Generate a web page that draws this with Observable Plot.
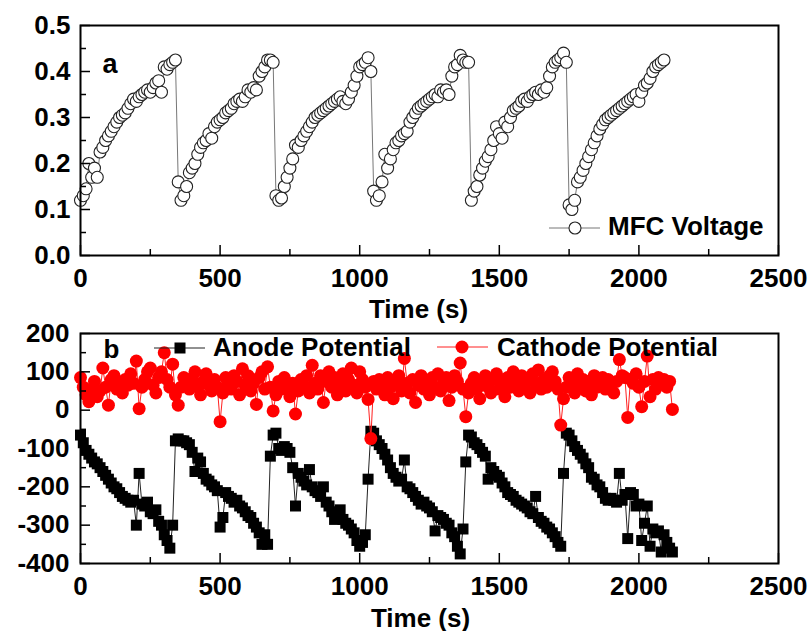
<!DOCTYPE html>
<html>
<head>
<meta charset="utf-8">
<script src="https://cdn.jsdelivr.net/npm/d3@7"></script>
<script src="https://cdn.jsdelivr.net/npm/@observablehq/plot@0.6"></script>
<style>
  html, body { margin: 0; padding: 0; background: white; }
  #chart svg { display: block; overflow: visible; }
</style>
</head>
<body>
<div id="chart"></div>
<script>
// Sampling times (s)
const time = [
  0,10,20,30,40,50,60,70,80,90,100,110,120,130,140,150,160,170,180,190,
  200,210,220,230,240,250,260,270,280,290,300,310,320,330,340,350,360,370,380,390,
  400,410,420,430,440,450,460,470,480,490,500,510,520,530,540,550,560,570,580,590,
  600,610,620,630,640,650,660,670,680,690,700,710,720,730,740,750,760,770,780,790,
  800,810,820,830,840,850,860,870,880,890,900,910,920,930,940,950,960,970,980,990,
  1000,1010,1020,1030,1040,1050,1060,1070,1080,1090,1100,1110,1120,1130,1140,1150,1160,1170,1180,1190,
  1200,1210,1220,1230,1240,1250,1260,1270,1280,1290,1300,1310,1320,1330,1340,1350,1360,1370,1380,1390,
  1400,1410,1420,1430,1440,1450,1460,1470,1480,1490,1500,1510,1520,1530,1540,1550,1560,1570,1580,1590,
  1600,1610,1620,1630,1640,1650,1660,1670,1680,1690,1700,1710,1720,1730,1740,1750,1760,1770,1780,1790,
  1800,1810,1820,1830,1840,1850,1860,1870,1880,1890,1900,1910,1920,1930,1940,1950,1960,1970,1980,1990,
  2000,2010,2020,2030,2040,2050,2060,2070,2080,2090,2100,2110,2120
];

// MFC voltage (V), t = 0 ... 2090 s
const mfcVoltage = [
  0.12,0.13,0.145,0.20,0.17,0.19,0.17,0.225,0.235,0.25,0.26,0.27,0.28,0.29,0.30,0.305,0.31,0.32,0.33,0.34,0.335,0.345,0.35,0.355,0.36,0.355,0.365,0.375,0.38,0.355,0.41,0.405,0.415,0.42,0.425,
  0.16,0.12,0.13,0.15,0.18,0.19,0.20,0.22,0.235,0.245,0.25,0.265,0.255,0.28,0.29,0.295,0.30,0.31,0.315,0.32,0.33,0.335,0.34,0.335,0.345,0.36,0.355,0.365,0.36,0.39,0.40,0.41,0.425,0.425,0.42,
  0.13,0.12,0.125,0.15,0.17,0.19,0.21,0.24,0.235,0.25,0.26,0.27,0.28,0.29,0.30,0.305,0.31,0.315,0.32,0.325,0.33,0.335,0.34,0.345,0.335,0.33,0.34,0.355,0.37,0.39,0.41,0.415,0.42,0.43,0.40,
  0.14,0.12,0.13,0.16,0.22,0.19,0.21,0.23,0.245,0.25,0.26,0.265,0.27,0.29,0.30,0.31,0.32,0.325,0.33,0.335,0.34,0.345,0.35,0.345,0.36,0.355,0.36,0.35,0.39,0.41,0.415,0.435,0.425,0.42,0.42,
  0.12,0.14,0.15,0.175,0.19,0.205,0.215,0.23,0.25,0.28,0.265,0.255,0.29,0.28,0.30,0.315,0.32,0.325,0.335,0.34,0.335,0.345,0.35,0.355,0.35,0.36,0.355,0.365,0.39,0.41,0.42,0.425,0.43,0.44,0.42,
  0.11,0.10,0.12,0.16,0.17,0.185,0.20,0.215,0.23,0.245,0.26,0.275,0.285,0.295,0.30,0.305,0.31,0.315,0.32,0.325,0.33,0.335,0.34,0.345,0.35,0.335,0.355,0.37,0.375,0.385,0.40,0.41,0.415,0.42,0.425
];

// Anode potential (mV), t = 0 ... 2120 s
const anodePotential = [
  -65,-85,-105,-115,-125,-135,-140,-150,-160,-170,-180,-190,-200,-205,-215,-225,-230,-235,-240,-235,-300,-165,-245,-250,-240,-265,-270,-260,-290,-300,-325,-340,-360,-300,
  -80,-75,-80,-80,-85,-90,-110,-160,-125,-135,-165,-180,-185,-195,-200,-210,-305,-280,-215,-225,-230,-240,-235,-250,-255,-265,-275,-280,-295,-305,-320,-350,-325,-350,
  -120,-65,-60,-100,-105,-95,-100,-110,-150,-250,-165,-175,-185,-195,-155,-200,-210,-215,-225,-200,-240,-250,-265,-285,-275,-260,-285,-295,-300,-310,-320,-340,-355,-345,-325,
  -180,-55,-60,-80,-90,-100,-115,-130,-150,-165,-175,-185,-180,-130,-200,-205,-215,-225,-235,-245,-240,-250,-255,-265,-315,-275,-280,-285,-295,-300,-320,-330,-355,-375,-310,
  -135,-65,-70,-85,-90,-100,-110,-120,-180,-150,-160,-170,-175,-190,-200,-215,-220,-225,-235,-240,-245,-250,-255,-265,-270,-225,-280,-290,-295,-305,-310,-320,-330,-345,-355,
  -165,-60,-65,-80,-95,-105,-115,-125,-140,-150,-175,-180,-195,-200,-215,-230,-235,-230,-235,-240,-165,-235,-220,-335,-215,-220,-250,-245,-340,-295,-250,-355,-310,-320,-315,-370,-325,-345,-360,-370
];

// Cathode potential (mV), t = 0 ... 2120 s
const cathodePotential = [
  85,60,40,22,55,75,35,50,110,60,
  13,80,90,55,70,45,80,65,95,70,
  128,4,60,80,100,110,65,45,85,100,
  150,80,60,120,40,13,60,85,70,55,
  83,100,60,40,75,95,65,50,80,60,
  -30,45,85,70,55,90,75,40,108,65,
  90,50,70,15,85,100,55,113,60,-2,
  40,75,55,85,60,35,70,-10,50,80,
  65,90,45,117,70,55,90,20,75,100,
  60,85,40,70,95,50,80,110,65,45,
  100,80,60,28,-74,75,55,80,65,40,
  85,60,30,75,90,50,135,70,45,80,
  20,65,90,55,75,40,85,60,95,50,
  70,85,25,60,90,75,123,55,-17,45,
  70,85,55,30,75,90,60,45,80,95,
  55,70,35,85,60,100,75,50,90,65,
  80,45,95,70,105,55,80,60,90,100,
  75,55,-39,30,60,85,70,45,95,65,
  80,50,75,40,90,60,70,85,55,80,
  65,45,75,132,90,85,-19,80,70,95,
  60,9,75,141,35,80,55,85,70,80,
  60,75,2
];

// Ticks
const xMajorTicks = [0, 500, 1000, 1500, 2000, 2500];
const xMinorTicks = [250, 750, 1250, 1750, 2250];
const yMajorTicksA = [0, 0.1, 0.2, 0.3, 0.4, 0.5];
const yMinorTicksA = [0.05, 0.15, 0.25, 0.35, 0.45];
const yMajorTicksB = [-400, -300, -200, -100, 0, 100, 200];
const yMinorTicksB = [-350, -250, -150, -50, 50, 150];

const xLabel = "Time (s)";
const legendA = "MFC Voltage";
const legendAnode = "Anode Potential";
const legendCathode = "Cathode Potential";

const FONT = "'Liberation Sans', Arial, Helvetica, sans-serif";
const W = 811;

function tickMarks(yTicksMajor, yTicksMinor) {
  return [
    Plot.axisX({ticks: xMajorTicks, tickSize: 10, dy: -10, text: null, label: null, strokeWidth: 1.5}),
    Plot.axisX({ticks: xMinorTicks, tickSize: 6, dy: -6, text: null, label: null, strokeWidth: 1.5}),
    Plot.axisY({ticks: yTicksMajor, tickSize: 10, dx: 10, text: null, label: null, strokeWidth: 1.5}),
    Plot.axisY({ticks: yTicksMinor, tickSize: 6, dx: 6, text: null, label: null, strokeWidth: 1.5})
  ];
}

const svgStyle = {fontFamily: FONT, fontWeight: "bold", fontSize: "26px", background: "transparent", color: "black", overflow: "visible"};

// Panel a
const dataA = mfcVoltage.map((v, i) => ({t: time[i], v}));
const plotA = Plot.plot({
  width: W, height: 320,
  marginTop: 25, marginBottom: 65, marginLeft: 80, marginRight: 33,
  style: svgStyle,
  x: {domain: [0, 2500]},
  y: {domain: [0, 0.5]},
  marks: [
    Plot.line(dataA, {x: "t", y: "v", stroke: "#777", strokeWidth: 1}),
    Plot.dot(dataA, {x: "t", y: "v", r: 6, fill: "white", stroke: "#222", strokeWidth: 1.1}),
    ...tickMarks(yMajorTicksA, yMinorTicksA),
    Plot.axisX({ticks: xMajorTicks, tickSize: 0, tickPadding: 13, tickFormat: d => String(d), label: null}),
    Plot.axisY({ticks: yMajorTicksA, tickSize: 0, tickPadding: 10, tickFormat: d3.format(".1f"), label: null}),
    Plot.text([xLabel], {frameAnchor: "bottom", dx: -11, dy: 62, lineAnchor: "bottom", fontSize: 26, fontWeight: "bold"}),
    Plot.text(["a"], {frameAnchor: "top-left", dx: 22, dy: 47, lineAnchor: "bottom", textAnchor: "start", fontSize: 27, fontWeight: "bold"}),
    Plot.frame({stroke: "black", strokeWidth: 2})
  ]
});

// Panel b
const dataAnode = anodePotential.map((v, i) => ({t: time[i], v}));
const dataCathode = cathodePotential.map((v, i) => ({t: time[i], v}));
const plotB = Plot.plot({
  width: W, height: 311,
  marginTop: 13, marginBottom: 68, marginLeft: 80, marginRight: 33,
  style: svgStyle,
  x: {domain: [0, 2500]},
  y: {domain: [-400, 200]},
  marks: [
    Plot.line(dataAnode, {x: "t", y: "v", stroke: "#222", strokeWidth: 1}),
    Plot.dot(dataAnode, {x: "t", y: "v", symbol: "square", r: 6.2, fill: "black", stroke: "none"}),
    Plot.line(dataCathode, {x: "t", y: "v", stroke: "#ff2020", strokeWidth: 1}),
    Plot.dot(dataCathode, {x: "t", y: "v", r: 6.5, fill: "#ff0000", stroke: "none"}),
    ...tickMarks(yMajorTicksB, yMinorTicksB),
    Plot.axisX({ticks: xMajorTicks, tickSize: 0, tickPadding: 13, tickFormat: d => String(d), label: null}),
    Plot.axisY({ticks: yMajorTicksB, tickSize: 0, tickPadding: 11, tickFormat: d => String(d), label: null}),
    Plot.text([xLabel], {frameAnchor: "bottom", dx: -9, dy: 63, lineAnchor: "bottom", fontSize: 26, fontWeight: "bold"}),
    Plot.text(["b"], {frameAnchor: "top-left", dx: 23, dy: 24, lineAnchor: "bottom", textAnchor: "start", fontSize: 26, fontWeight: "bold"}),
    Plot.frame({stroke: "black", strokeWidth: 2})
  ]
});

// Legends (drawn on top of each panel)
function addLegendText(g, x, y, s) {
  g.append("text").attr("x", x).attr("y", y).attr("text-anchor", "start")
    .attr("font-family", FONT).attr("font-weight", "bold")
    .attr("font-size", 26).attr("fill", "black").text(s);
}
{
  const g = d3.select(plotA).append("g");
  g.append("line").attr("x1", 549).attr("x2", 600).attr("y1", 228).attr("y2", 228).attr("stroke", "#777").attr("stroke-width", 1);
  g.append("circle").attr("cx", 575).attr("cy", 228).attr("r", 6).attr("fill", "white").attr("stroke", "#222").attr("stroke-width", 1.1);
  addLegendText(g, 608, 235, legendA);
}
{
  const g = d3.select(plotB).append("g");
  g.append("line").attr("x1", 154).attr("x2", 205).attr("y1", 28).attr("y2", 28).attr("stroke", "#222").attr("stroke-width", 1);
  g.append("rect").attr("x", 174.5).attr("y", 22.5).attr("width", 11).attr("height", 11).attr("fill", "black");
  addLegendText(g, 213, 36, legendAnode);
  g.append("line").attr("x1", 437).attr("x2", 488).attr("y1", 27).attr("y2", 27).attr("stroke", "#ff2020").attr("stroke-width", 1);
  g.append("circle").attr("cx", 462).attr("cy", 27).attr("r", 6.5).attr("fill", "#ff0000");
  addLegendText(g, 497, 36, legendCathode);
}

document.getElementById("chart").append(plotA, plotB);
</script>
</body>
</html>
